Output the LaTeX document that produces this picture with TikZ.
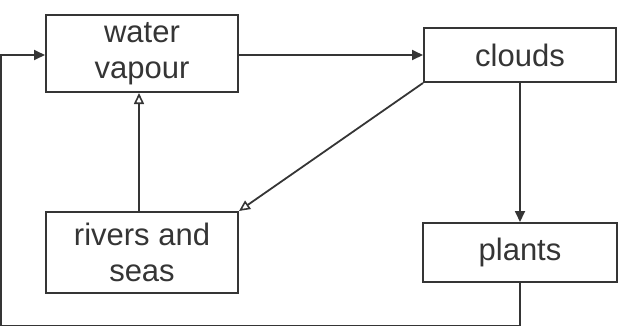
\documentclass[tikz,border=0pt]{standalone}
\usepackage{fontspec}
\setmainfont{Liberation Sans}
\usetikzlibrary{arrows.meta}
\definecolor{ink}{HTML}{353535}
\begin{document}
\begin{tikzpicture}[x=1pt,y=-1pt,
  stage/.style={draw=ink, line width=2pt, fill=white, text=ink,
    inner sep=0pt, align=center, font=\fontsize{31}{36}\selectfont},
  flow/.style={draw=ink, line width=1.8pt},
  openhead/.style={flow, -{Triangle[open, length=11pt, width=10pt, line width=1.6pt]}},
  solidhead/.style={flow, -{Triangle[length=11pt, width=10pt]}}]
  \useasboundingbox (0,0) rectangle (623,325);
  \clip (0,0) rectangle (623,325);

  % stages of the cycle
  \node[stage, minimum width=192pt, minimum height=77pt] (vapour) at (142,53.5) {water\\vapour};
  \node[stage, minimum width=192pt, minimum height=54pt] (clouds) at (520,55) {clouds};
  \node[stage, minimum width=192pt, minimum height=81pt] (rivers) at (142,252.5) {rivers and\\seas};
  \node[stage, minimum width=194pt, minimum height=59pt] (plants) at (520,252.5) {plants};

  % return path running round the bottom and the left edge
  \coordinate (low) at (1.2,325.5);
  \coordinate (turn) at (1.2,55);

  \draw[solidhead] (vapour.east |- clouds.west) -- (clouds.west);
  \draw[solidhead] (clouds.south) -- (plants.north);
  \draw[openhead] (clouds.south west) -- (rivers.north east);
  \draw[openhead] (rivers.north -| 139,0) -- (vapour.south -| 139,0);
  \draw[flow] (plants.south) |- (low);
  \draw[solidhead] (low) -- (turn) -- (vapour.west |- turn);
\end{tikzpicture}
\end{document}
